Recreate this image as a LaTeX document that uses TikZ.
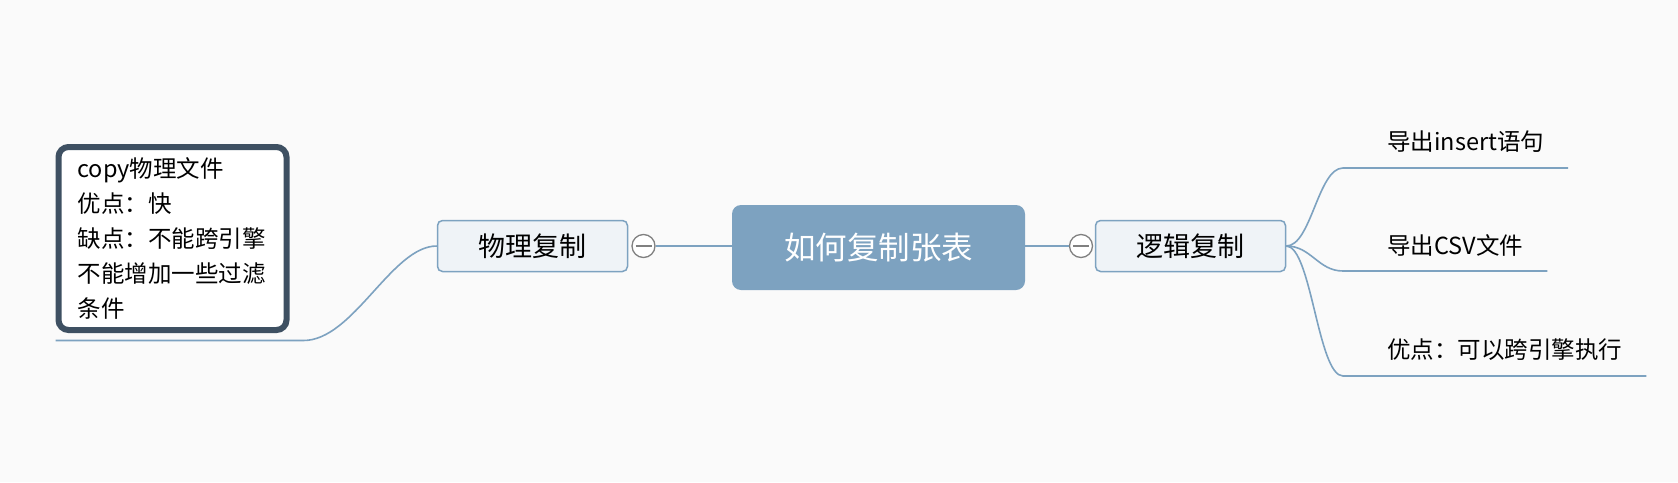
\documentclass[tikz,border=0pt]{standalone}
\usepackage{fontspec}
\setmainfont{Noto Sans CJK SC}
\usetikzlibrary{positioning}
\definecolor{bgcol}{RGB}{250,250,250}
\definecolor{topicblue}{RGB}{125,162,192}
\definecolor{subfill}{RGB}{239,243,247}
\definecolor{notedark}{RGB}{62,80,98}
\definecolor{foldgray}{RGB}{128,128,128}
\tikzset{
    root/.style={rectangle,rounded corners=9pt,fill=topicblue,text=white,
        minimum width=293pt,minimum height=85pt,font=\fontsize{31.5}{36}\selectfont},
    sub/.style={rectangle,rounded corners=5pt,draw=topicblue,line width=1.5pt,fill=subfill,
        minimum width=190pt,minimum height=51pt,font=\fontsize{27}{32}\selectfont},
    fold/.style={circle,draw=foldgray,fill=white,line width=1.3pt,minimum size=23pt,inner sep=0pt,
        path picture={\draw[foldgray,line width=1.3pt]
            ([xshift=-8pt]path picture bounding box.center) -- ([xshift=8pt]path picture bounding box.center);}},
    link/.style={draw=topicblue,line width=1.6pt},
    leaf/.style={anchor=west,inner sep=0pt,font=\fontsize{23.5}{28}\selectfont},
    notebox/.style={rectangle,rounded corners=10pt,draw=notedark,line width=6pt,fill=white,
        text width=190pt,inner xsep=19pt,minimum height=183pt,align=left,
        font=\fontsize{23.5}{35}\selectfont}
}
\begin{document}
\begin{tikzpicture}[x=1pt,y=-1pt]
    \fill[bgcol] (0,0) rectangle (1678,482);

    \node[root] (table) at (878.5,247.5) {如何复制张表};
    \node[sub] (phys) at (532.5,246) {物理复制};
    \node[sub] (logic) at (1190.5,246) {逻辑复制};
    \node[fold] (physfold) at (643.5,246) {};
    \node[fold] (logicfold) at (1081,246) {};

    \draw[link] (physfold.east) -- (physfold.east -| table.west);
    \draw[link] (logicfold.west) -- (logicfold.west -| table.east);

    % left branch
    \node[notebox] (note) at (172.5,238.5) {copy物理文件\\优点：快\\缺点：不能跨引擎\\不能增加一些过滤\\条件};
    \coordinate[below=7.5pt of note.south west] (ul-l);
    \coordinate[below right=7.5pt and 14pt of note.south east] (ul-r);
    \draw[link] (phys.west) .. controls +(-45,0) and +(50,0) .. (ul-r) -- (ul-l);

    % right branch
    \foreach \leafname/\ypos/\leaftext in {ins/142/导出insert语句,csv/245/导出CSV文件,adv/350/优点：可以跨引擎执行} {
    \node[leaf] (\leafname) at (1387,\ypos) {\leaftext};
    \draw[link] (logic.east) .. controls +(25,0) and +(-25,0) .. ([shift={(-44,26)}]\leafname.west)
        -- ([shift={(24,26)}]\leafname.east);
    }
\end{tikzpicture}
\end{document}
